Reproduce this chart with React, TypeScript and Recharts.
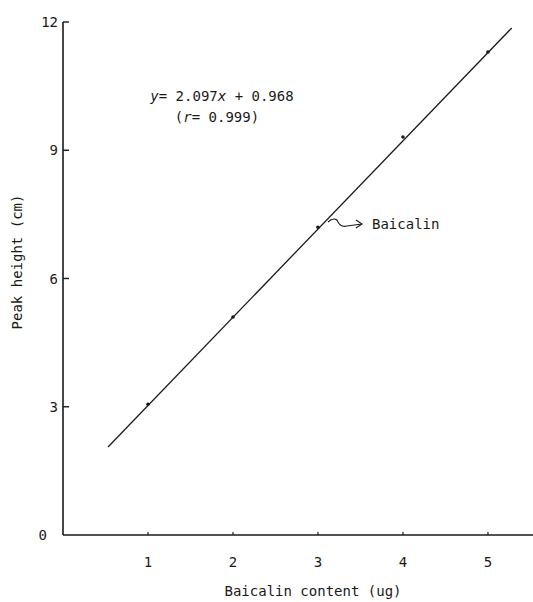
import React from "react";
import { ComposedChart, Line, Scatter, XAxis, YAxis, Customized } from "recharts";

// measured standards
const contentX = [1, 2, 3, 4, 5];
const peakY = [3.06, 5.1, 7.2, 9.31, 11.3];

// ends of the fitted line
const fitX = [0.53, 5.28];
const fitY = [2.06, 11.86];

const xTicks = [1, 2, 3, 4, 5];
const yTicks = [0, 3, 6, 9, 12];

const points = contentX.map((x, i) => ({ x, y: peakY[i] }));
const fitLine = fitX.map((x, i) => ({ x, y: fitY[i] }));

const font = "'DejaVu Sans Mono', 'Liberation Mono', monospace";
const ink = "#1a1a1a";

const YTick = (props: any) => {
  const { x, y, payload } = props;
  const v = payload.value;
  return (
    <g>
      {v !== 0 && <line x1={x} y1={y} x2={x + 6} y2={y} stroke={ink} strokeWidth={1.4} />}
      <text x={v === 0 ? x - 16 : x - 5} y={y} dy={5} textAnchor="end" fontFamily={font} fontSize={14} fill={ink}>
        {v}
      </text>
    </g>
  );
};

const XTick = (props: any) => {
  const { x, y, payload } = props;
  return (
    <g>
      <line x1={x} y1={y} x2={x} y2={y - 3} stroke={ink} strokeWidth={1.2} />
      <text x={x} y={y + 32} textAnchor="middle" fontFamily={font} fontSize={14} fill={ink}>
        {payload.value}
      </text>
    </g>
  );
};

const Dot = (props: any) => <circle cx={props.cx} cy={props.cy} r={1.8} fill={ink} />;

const Notes = () => (
  <g fontFamily={font} fill={ink}>
    <text x={222} y={101} textAnchor="middle" fontSize={14}>
      <tspan fontStyle="italic">y</tspan>= 2.097<tspan fontStyle="italic">x</tspan> + 0.968
    </text>
    <text x={217} y={122} textAnchor="middle" fontSize={14}>
      (<tspan fontStyle="italic">r</tspan>= 0.999)
    </text>
    <text x={372} y={229} fontSize={14}>Baicalin</text>
    <path d="M328,222 C332,218 337,218 338,222 C340,226 343,227 347,226 L362,224" fill="none" stroke={ink} strokeWidth={1.1} />
    <path d="M356,220 L362,224 L356,228" fill="none" stroke={ink} strokeWidth={1.1} />
    <text x={0} y={0} transform="translate(22,262) rotate(-90)" textAnchor="middle" fontSize={14}>
      Peak height (cm)
    </text>
    <text x={313} y={596} textAnchor="middle" fontSize={14}>Baicalin content (ug)</text>
  </g>
);

export default function App() {
  return (
    <div style={{ position: "absolute", left: 0, top: 0, background: "#fff" }}>
      <ComposedChart width={533} height={602} margin={{ top: 22, right: 0, bottom: 0, left: 0 }}>
        <XAxis
          type="number"
          dataKey="x"
          domain={[0, 5.53]}
          ticks={xTicks}
          allowDataOverflow
          height={67}
          tickSize={0}
          tickMargin={0}
          tick={<XTick />}
          axisLine={{ stroke: ink, strokeWidth: 1.6 }}
        />
        <YAxis
          type="number"
          dataKey="y"
          domain={[0, 12]}
          ticks={yTicks}
          width={63}
          tickSize={0}
          tickMargin={0}
          tick={<YTick />}
          axisLine={{ stroke: ink, strokeWidth: 1.6 }}
        />
        <Line
          data={fitLine}
          dataKey="y"
          type="linear"
          stroke={ink}
          strokeWidth={1.3}
          dot={false}
          activeDot={false}
          isAnimationActive={false}
        />
        <Scatter data={points} dataKey="y" shape={<Dot />} isAnimationActive={false} />
        <Customized component={Notes} />
      </ComposedChart>
    </div>
  );
}
